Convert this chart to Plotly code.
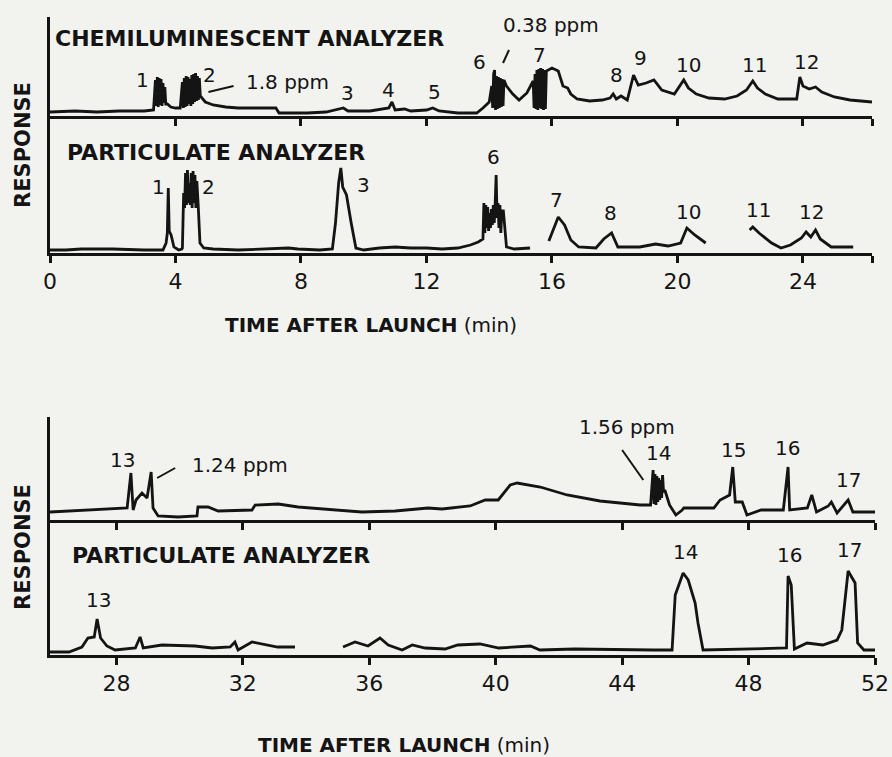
import plotly.graph_objects as go

# ---------------- DATA (time after launch in min, response in arbitrary units) -------------
# Top panel, chemiluminescent analyzer
top_chem_t = [0.0, 0.8, 1.5, 2.2, 3.0, 3.3,
              3.36, 3.39, 3.42, 3.45, 3.48, 3.51, 3.54, 3.57, 3.60, 3.63, 3.66, 3.69,
              3.74, 3.85, 4.0, 4.15,
              4.22, 4.25, 4.28, 4.31, 4.34, 4.37, 4.40, 4.43, 4.46, 4.49, 4.52, 4.55, 4.58, 4.61,
              4.64, 4.67, 4.70, 4.73, 4.76, 4.79, 4.95,
              5.2, 5.6, 6.0, 6.6, 7.2, 7.3, 7.6, 8.2, 8.8, 9.2, 9.35, 9.5, 10.2, 10.8, 10.9, 11.0,
              11.3, 11.5, 12.0, 12.2, 12.4, 13.0, 13.6,
              13.8, 14.0, 14.08, 14.11, 14.14, 14.17, 14.20, 14.23, 14.26, 14.29, 14.32, 14.35,
              14.38, 14.41, 14.44, 14.47, 14.55, 14.75, 14.95, 15.2,
              15.40, 15.43, 15.46, 15.49, 15.52, 15.55, 15.58, 15.61, 15.64, 15.67, 15.70, 15.73,
              15.76, 15.79, 15.82, 15.9, 16.0, 16.2, 16.35,
              16.5, 16.6, 16.8, 17.2, 17.6, 17.85, 17.95, 18.05, 18.2, 18.4, 18.6, 18.75, 19.0, 19.25,
              19.5, 19.9, 20.2, 20.35, 20.6, 21.0, 21.5, 21.9, 22.2, 22.4, 22.55, 22.8, 23.2, 23.8,
              23.9, 24.0, 24.2, 24.4, 24.6, 25.0, 25.5, 26.2]
top_chem_r = [4, 5, 4, 5, 5, 6,
              36, 10, 39, 9, 38, 11, 37, 10, 33, 13, 29, 12,
              12, 9, 8, 8,
              34, 8, 38, 9, 40, 10, 39, 12, 37, 10, 41, 12, 42, 14,
              43, 15, 40, 16, 38, 20, 14,
              11, 9, 8, 8, 8, 3, 3, 3, 4, 7, 8, 5, 5, 8, 14, 6,
              7, 5, 6, 8, 5, 3, 3,
              8, 14, 30, 8, 42, 46, 6, 40, 7, 39, 8, 38,
              9, 37, 10, 36, 30, 22, 16, 23,
              35, 8, 42, 7, 46, 6, 47, 8, 48, 7, 47, 6,
              46, 7, 45, 46, 48, 45, 30,
              28, 22, 17, 15, 16, 18, 22, 17, 20, 16, 41, 31, 33, 36,
              26, 22, 36, 28, 22, 18, 17, 20, 26, 35, 28, 22, 17, 17,
              39, 30, 27, 29, 24, 19, 16, 14]

# Top panel, particulate analyzer (None = gap in the record)
top_part_t = [0.0, 0.5, 1.0, 2.0, 3.0, 3.6, 3.70, 3.74, 3.77, 3.80, 3.86, 3.95, 4.1, 4.2,
              4.22, 4.26, 4.29, 4.32, 4.35, 4.38, 4.41, 4.44, 4.47, 4.50, 4.53, 4.56, 4.59, 4.62,
              4.65, 4.68, 4.72, 4.78, 4.9, 5.2, 6.0,
              7.0, 7.6, 7.9, 8.6, 9.0,
              9.1, 9.2, 9.27, 9.33, 9.45, 9.6, 9.75, 10.0, 10.5, 11.0, 11.5, 12.0, 12.5, 13.0,
              13.4, 13.65, 13.8,
              13.83, 13.86, 13.89, 13.92, 13.95, 13.98, 14.01, 14.04, 14.07, 14.10, 14.13, 14.16,
              14.19, 14.22, 14.25, 14.28, 14.31, 14.34, 14.37, 14.40, 14.45,
              14.55, 14.8, 15.3, None,
              15.9, 16.2, 16.4, 16.6, 16.85, 17.4, 17.65, 17.9, 18.1, 18.8, 19.3, 19.7, 20.1,
              20.3, 20.55, 20.9, None,
              22.3, 22.4, 22.6, 23.0, 23.3, 23.6, 23.95, 24.1, 24.25, 24.4, 24.55, 24.9, 25.6]
top_part_r = [3, 3, 4, 4, 3, 3, 10, 20, 65, 22, 18, 6, 3, 4,
              5, 60, 45, 80, 48, 83, 50, 70, 48, 80, 45, 82, 50, 78,
              45, 72, 50, 10, 5, 4, 3,
              4, 5, 4, 3, 4,
              30, 70, 85, 66, 58, 30, 5, 3, 5, 6, 5, 5, 4, 5,
              8, 11, 14,
              50, 20, 48, 25, 46, 22, 40, 25, 44, 28, 48, 30,
              50, 78, 35, 50, 25, 48, 20, 42, 42,
              6, 4, 5, None,
              12, 36, 28, 13, 6, 5, 14, 20, 6, 6, 9, 7, 10,
              25, 18, 10, None,
              23, 26, 20, 10, 5, 8, 15, 21, 16, 23, 14, 6, 6]

# Bottom panel, chemiluminescent analyzer
bot_chem_t = [25.9, 26.5, 27.2, 27.9, 28.34, 28.46, 28.53, 28.62, 28.81, 28.97, 29.1, 29.16,
              29.32, 29.95, 30.55, 30.58, 30.9, 31.22, 32.29, 32.39, 33.12, 33.75, 34.7, 35.77,
              36.82, 37.86, 38.3, 39.03, 39.19, 39.67, 40.08, 40.46, 40.68, 41.41, 42.26, 43.3,
              44.57, 44.9,
              44.98, 45.01, 45.04, 45.07, 45.10, 45.13, 45.16, 45.19, 45.22, 45.25, 45.28, 45.31,
              45.35, 45.5, 45.7, 45.9, 45.95,
              46.9, 47.1, 47.4, 47.5, 47.58, 47.8, 47.95, 48.4, 49.1, 49.25, 49.3, 49.86,
              50.0, 50.15, 50.52, 50.62, 50.8, 51.15, 51.3, 52.0]
bot_chem_r = [8, 9, 10, 11, 12, 47, 10, 20, 27, 22, 48, 12,
              4, 3, 4, 13, 13, 9, 10, 15, 16, 13, 11, 8,
              9, 12, 11, 13, 14, 20, 20, 35, 37, 33, 25, 19,
              15, 15,
              50, 16, 46, 15, 44, 18, 42, 20, 40, 22, 45, 28,
              30, 15, 5, 10, 12,
              12, 20, 25, 53, 18, 18, 5, 10, 10, 53, 10, 12,
              25, 8, 14, 18, 7, 20, 8, 8]

# Bottom panel, particulate analyzer (None = gap in the record)
bot_part_t = [25.9, 26.5, 26.91, 27.1, 27.3, 27.39, 27.5, 27.7, 27.96, 28.6, 28.75, 28.85,
              29.44, 30.49, 31.03, 31.6, 31.75, 31.85, 32.29, 33.1, 33.65, None,
              35.17, 35.55, 35.96, 36.34, 36.6, 37.04, 37.36, 37.77, 38.4, 38.8, 39.5, 40.1,
              41.1, 41.4, 42.5, 44.0, 44.98, 45.58,
              45.68, 45.93, 46.09, 46.31, 46.4, 46.56, 47.7, 48.7, 49.2,
              49.25, 49.35, 49.45, 49.85, 50.35, 50.8, 50.95, 51.15, 51.37, 51.45, 51.65, 52.0]
bot_part_r = [3, 3, 8, 17, 18, 36, 17, 9, 5, 7, 18, 7,
              10, 9, 7, 8, 13, 5, 13, 8, 8, None,
              8, 13, 9, 17, 10, 5, 10, 7, 6, 10, 11, 7,
              9, 5, 6, 5, 5, 5,
              60, 82, 75, 52, 32, 5, 6, 7, 7,
              79, 70, 6, 12, 10, 15, 25, 84, 72, 12, 5, 5]

top_ticks = [0, 4, 8, 12, 16, 20, 24]
bot_ticks = [28, 32, 36, 40, 44, 48, 52]

# ---------------- FIGURE -----------------------------------------------------------------
W, H = 892, 757
INK = "#141414"
BG = "#f2f2ef"
FONT = "DejaVu Sans"


def px_x(p):
    return p / W


def px_y(p):
    return 1 - p / H


fig = go.Figure()
line = dict(color=INK, width=2.8)
fig.add_trace(go.Scatter(x=top_chem_t, y=top_chem_r, mode="lines", line=line, xaxis="x", yaxis="y"))
fig.add_trace(go.Scatter(x=top_part_t, y=top_part_r, mode="lines", line=line, xaxis="x2", yaxis="y2"))
fig.add_trace(go.Scatter(x=bot_chem_t, y=bot_chem_r, mode="lines", line=line, xaxis="x3", yaxis="y3"))
fig.add_trace(go.Scatter(x=bot_part_t, y=bot_part_r, mode="lines", line=line, xaxis="x4", yaxis="y4"))

xcommon = dict(showline=True, linecolor=INK, linewidth=2.6, ticks="outside", ticklen=7,
               tickwidth=2.6, tickcolor=INK, showgrid=False, zeroline=False, automargin=False,
               tickfont=dict(family=FONT, size=22, color=INK), fixedrange=True)
ycommon = dict(showline=True, linecolor=INK, linewidth=2.6, ticks="", showticklabels=False,
               showgrid=False, zeroline=False, fixedrange=True, automargin=False)

top_dom = [px_x(50), px_x(872)]
bot_dom = [px_x(50), px_x(875)]

fig.update_layout(
    width=W, height=H, margin=dict(l=0, r=0, t=0, b=0, autoexpand=False),
    paper_bgcolor=BG, plot_bgcolor=BG, showlegend=False,
    xaxis=dict(xcommon, domain=top_dom, range=[0, 26.2], anchor="y",
               tickvals=top_ticks[1:] + [26.2], showticklabels=False),
    yaxis=dict(ycommon, domain=[px_y(116), px_y(17)], range=[0, 99], anchor="x"),
    xaxis2=dict(xcommon, domain=top_dom, range=[0, 26.2], anchor="y2",
                tickvals=top_ticks + [26.2], ticktext=[str(v) for v in top_ticks] + [""]),
    yaxis2=dict(ycommon, domain=[px_y(253), px_y(116)], range=[0, 137], anchor="x2"),
    xaxis3=dict(xcommon, domain=bot_dom, range=[25.9, 52], anchor="y3",
                tickvals=bot_ticks, showticklabels=False),
    yaxis3=dict(ycommon, domain=[px_y(520), px_y(417)], range=[0, 103], anchor="x3"),
    xaxis4=dict(xcommon, domain=bot_dom, range=[25.9, 52], anchor="y4",
                tickvals=bot_ticks, ticktext=[str(v) for v in bot_ticks]),
    yaxis4=dict(ycommon, domain=[px_y(655), px_y(520)], range=[0, 135], anchor="x4"),
)


def label(text, x, y, ax, size=20, bold=False, xanchor="center"):
    xr = "x" if ax == 1 else f"x{ax}"
    yr = "y" if ax == 1 else f"y{ax}"
    fig.add_annotation(text=f"<b>{text}</b>" if bold else text, x=x, y=y, xref=xr, yref=yr,
                       showarrow=False, xanchor=xanchor, yanchor="middle",
                       font=dict(family=FONT, size=size, color=INK))


def leader(x0, y0, x1, y1, ax):
    xr = "x" if ax == 1 else f"x{ax}"
    yr = "y" if ax == 1 else f"y{ax}"
    fig.add_shape(type="line", x0=x0, y0=y0, x1=x1, y1=y1, xref=xr, yref=yr,
                  line=dict(color=INK, width=2))


# panel titles
label("CHEMILUMINESCENT ANALYZER", 0.1, 78, 1, size=22, bold=True, xanchor="left")
label("PARTICULATE ANALYZER", 0.48, 101, 2, size=22, bold=True, xanchor="left")
label("CHEMILUMINESCENT ANALYZER", 26.44, 110, 3, size=22, bold=True, xanchor="left")
label("PARTICULATE ANALYZER", 26.53, 100, 4, size=22, bold=True, xanchor="left")

# top chemiluminescent peak labels
for txt, x, y in [("1", 2.94, 36), ("2", 5.08, 41), ("3", 9.49, 23), ("4", 10.8, 26),
                  ("5", 12.24, 24), ("6", 13.7, 54), ("7", 15.59, 61), ("8", 18.05, 41),
                  ("9", 18.82, 58), ("10", 20.35, 51), ("11", 22.46, 51), ("12", 24.12, 54)]:
    label(txt, x, y, 1)
label("1.8 ppm", 7.57, 34, 1)
label("0.38 ppm", 15.97, 91, 1)
leader(5.05, 24, 5.85, 30, 1)
leader(14.44, 53, 14.63, 66, 1)

# top particulate peak labels
for txt, x, y in [("1", 3.45, 66), ("2", 5.05, 66), ("3", 10.0, 68), ("6", 14.15, 96),
                  ("7", 16.13, 53), ("8", 17.86, 40), ("10", 20.35, 41), ("11", 22.59, 43),
                  ("12", 24.28, 41)]:
    label(txt, x, y, 2)

# bottom chemiluminescent labels
for txt, x, y in [("13", 28.18, 60), ("14", 45.14, 67), ("15", 47.51, 70), ("16", 49.22, 72),
                  ("17", 51.15, 40)]:
    label(txt, x, y, 3)
label("1.24 ppm", 31.91, 55, 3)
label("1.56 ppm", 44.16, 93, 3)
leader(29.29, 42, 29.86, 52, 3)
leader(44.0, 70, 44.67, 40, 3)

# bottom particulate labels
for txt, x, y in [("13", 27.45, 55), ("14", 46.0, 103), ("16", 49.29, 100), ("17", 51.18, 105)]:
    label(txt, x, y, 4)

# axis titles
for yy in [145, 547]:
    fig.add_annotation(text="<b>RESPONSE</b>", x=px_x(23), y=px_y(yy), xref="paper", yref="paper",
                       textangle=-90, showarrow=False, xanchor="center", yanchor="middle",
                       font=dict(family=FONT, size=21, color=INK))
for xx, yy in [(371, 325), (404, 745)]:
    fig.add_annotation(text="<b>TIME AFTER LAUNCH</b> (min)", x=px_x(xx), y=px_y(yy),
                       xref="paper", yref="paper", showarrow=False,
                       xanchor="center", yanchor="middle",
                       font=dict(family=FONT, size=20, color=INK))

post = (
    "document.documentElement.style.margin='0';"
    "document.documentElement.style.overflow='hidden';"
    "document.body.style.margin='0';"
    "document.body.style.overflow='hidden';"
    "document.body.style.background='" + BG + "';"
    "var d=document.getElementById('{plot_id}');"
    "d.style.position='fixed';d.style.left='0px';d.style.top='0px';"
)
fig.write_html("out.html", config={"displayModeBar": False, "responsive": False},
               post_script=post)
